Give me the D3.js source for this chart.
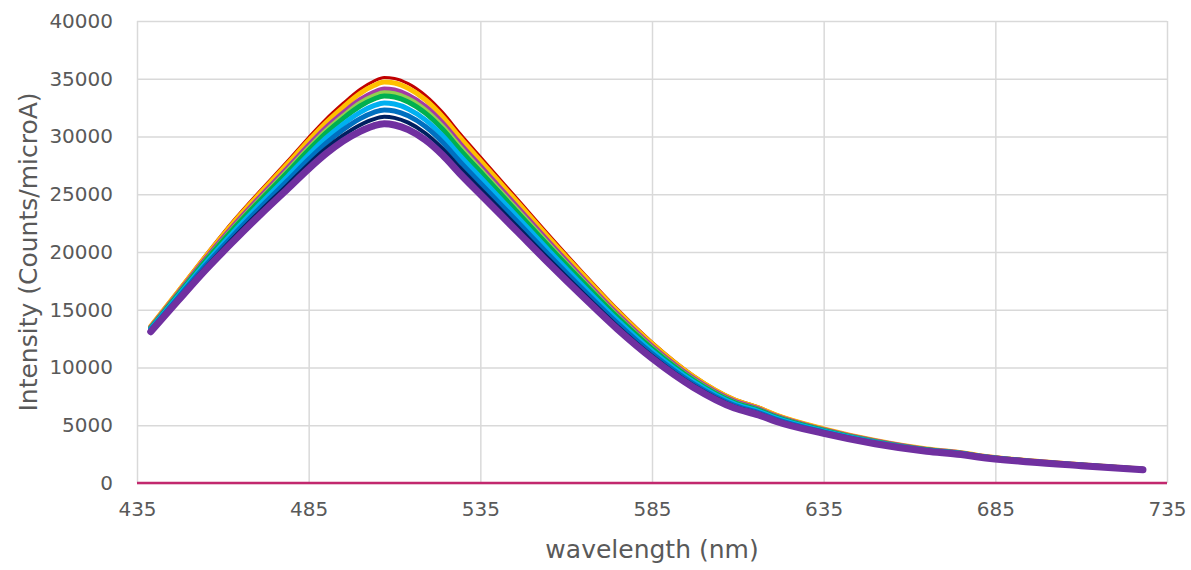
<!DOCTYPE html>
<html>
<head>
<meta charset="utf-8">
<script src="https://cdn.jsdelivr.net/npm/d3@7"></script>
<style>
	body { margin: 0; background: #fff; }
	svg { display: block; }
	.tick text { fill: #595959; }
	.grid line { stroke: #d9d9d9; stroke-width: 1.5; }
	.grid path { display: none; }
</style>
</head>
<body>
<svg id="chart" width="1191" height="570"></svg>
<script>
'use strict';

// wavelength samples (nm) shared by all spectra
var wavelengths = [439, 447, 455, 463, 471, 479, 485, 490, 495, 500, 504, 507, 510, 514, 519, 524, 529, 536, 546, 555, 565, 575, 585, 597, 609, 616, 621, 635, 650, 665, 675, 680, 695, 710, 728];

// intensities, top curve first
var darkRed   = [13620, 16670, 19740, 22680, 25340, 27920, 29920, 31490, 32860, 34100, 34800, 35110, 35030, 34580, 33560, 32090, 30280, 27910, 24520, 21470, 18190, 15030, 12200, 9340, 7280, 6580, 5970, 4730, 3710, 2960, 2640, 2410, 1930, 1580, 1210];
var orange    = [13570, 16580, 19610, 22500, 25130, 27680, 29650, 31190, 32530, 33740, 34410, 34710, 34630, 34180, 33180, 31720, 29940, 27590, 24240, 21220, 17980, 14860, 12060, 9230, 7200, 6510, 5900, 4690, 3680, 2940, 2630, 2390, 1920, 1580, 1200];
var magenta   = [13490, 16450, 19420, 22230, 24820, 27320, 29240, 30750, 32040, 33190, 33830, 34110, 34020, 33580, 32600, 31170, 29410, 27110, 23820, 20850, 17670, 14600, 11850, 9080, 7090, 6410, 5810, 4620, 3630, 2910, 2600, 2370, 1900, 1560, 1190];
var lightGreen = [13460, 16390, 19330, 22110, 24670, 27150, 29050, 30540, 31810, 32940, 33560, 33830, 33740, 33310, 32330, 30910, 29170, 26880, 23620, 20680, 17520, 14480, 11760, 9010, 7030, 6360, 5770, 4590, 3610, 2890, 2590, 2360, 1890, 1560, 1190];
var green     = [13410, 16320, 19230, 21970, 24510, 26950, 28830, 30300, 31550, 32640, 33250, 33510, 33420, 32990, 32020, 30620, 28890, 26630, 23390, 20480, 17360, 14340, 11640, 8920, 6970, 6310, 5720, 4560, 3580, 2870, 2570, 2350, 1890, 1550, 1190];
var lightBlue = [13340, 16190, 19030, 21700, 24190, 26590, 28420, 29850, 31070, 32090, 32670, 32910, 32810, 32390, 31440, 30060, 28370, 26150, 22970, 20110, 17040, 14080, 11430, 8770, 6850, 6210, 5630, 4490, 3540, 2840, 2550, 2320, 1870, 1540, 1180];
var blue      = [13260, 16060, 18840, 21430, 23880, 26230, 28020, 29400, 30580, 31550, 32090, 32300, 32210, 31790, 30860, 29510, 27850, 25660, 22550, 19740, 16730, 13820, 11220, 8610, 6730, 6100, 5540, 4430, 3490, 2810, 2520, 2300, 1850, 1530, 1170];
var navy      = [13180, 15930, 18640, 21170, 23560, 25860, 27610, 28950, 30090, 31000, 31510, 31700, 31610, 31200, 30280, 28950, 27320, 25180, 22120, 19370, 16410, 13560, 11010, 8460, 6620, 6000, 5440, 4370, 3450, 2780, 2500, 2270, 1840, 1510, 1160];
var purple    = [13100, 15800, 18450, 20900, 23250, 25500, 27200, 28500, 29600, 30450, 30930, 31100, 31000, 30600, 29700, 28400, 26800, 24700, 21700, 19000, 16100, 13300, 10800, 8300, 6500, 5900, 5350, 4300, 3400, 2750, 2470, 2250, 1820, 1500, 1150];

// flat zero series along the x axis
var zeroWavelengths = [435, 735];
var zeroValues = [0, 0];

var xTickValues = [435, 485, 535, 585, 635, 685, 735];
var yTickValues = [0, 5000, 10000, 15000, 20000, 25000, 30000, 35000, 40000];

var seriesValues = [darkRed, orange, magenta, lightGreen, green, lightBlue, blue, navy, purple];
var seriesColors = ['#c00000', '#ffc000', '#a33aa6', '#92d050', '#00b050', '#00b0f0', '#0070c0', '#002060', '#7030a0'];
var seriesWidths = [3, 5, 5, 4, 5, 5, 5, 4, 7];

var FONT = "'Century Gothic', 'DejaVu Sans', sans-serif";

var margin = { top: 21, right: 24, bottom: 87, left: 137 };
var svg = d3.select('#chart');
var width = +svg.attr('width') - margin.left - margin.right;
var height = +svg.attr('height') - margin.top - margin.bottom;

var x = d3.scaleLinear().domain([435, 735]).range([0, width]);
var y = d3.scaleLinear().domain([0, 40000]).range([height, 0]);

var g = svg.append('g')
	.attr('transform', 'translate(' + margin.left + ',' + margin.top + ')');

// gridlines
g.append('g')
	.attr('class', 'grid')
	.call(d3.axisLeft(y).tickValues(yTickValues).tickSize(-width).tickFormat(''));
g.append('g')
	.attr('class', 'grid')
	.attr('transform', 'translate(0,' + height + ')')
	.call(d3.axisBottom(x).tickValues(xTickValues).tickSize(-height).tickFormat(''));

// tick labels
var yAxis = g.append('g')
	.call(d3.axisLeft(y).tickValues(yTickValues).tickSize(0).tickPadding(24).tickFormat(d3.format('d')));
yAxis.select('.domain').remove();
yAxis.selectAll('text').style('font-family', FONT).style('font-size', '20px');

var xAxis = g.append('g')
	.attr('transform', 'translate(0,' + height + ')')
	.call(d3.axisBottom(x).tickValues(xTickValues).tickSize(0).tickPadding(19).tickFormat(d3.format('d')));
xAxis.select('.domain').remove();
xAxis.selectAll('text').style('font-family', FONT).style('font-size', '20px');

var line = d3.line()
	.x(function(d) { return x(d[0]); })
	.y(function(d) { return y(d[1]); })
	.curve(d3.curveMonotoneX);

// zero line
g.append('path')
	.datum(d3.zip(zeroWavelengths, zeroValues))
	.attr('fill', 'none')
	.attr('stroke', '#c2286e')
	.attr('stroke-width', 2.5)
	.attr('d', line);

// spectra, top curve drawn first so the lower ones sit over it
seriesValues.forEach(function(vals, i) {
	g.append('path')
		.datum(d3.zip(wavelengths, vals))
		.attr('fill', 'none')
		.attr('stroke', seriesColors[i])
		.attr('stroke-width', seriesWidths[i])
		.attr('stroke-linejoin', 'round')
		.attr('stroke-linecap', 'round')
		.attr('d', line);
});

// axis titles
svg.append('text')
	.attr('x', margin.left + width / 2)
	.attr('y', 558)
	.attr('text-anchor', 'middle')
	.style('font-family', FONT)
	.style('font-size', '25px')
	.style('fill', '#595959')
	.text('wavelength (nm)');

svg.append('text')
	.attr('transform', 'translate(37,' + (margin.top + height / 2) + ') rotate(-90)')
	.attr('text-anchor', 'middle')
	.style('font-family', FONT)
	.style('font-size', '25px')
	.style('fill', '#595959')
	.text('Intensity (Counts/microA)');
</script>
</body>
</html>
